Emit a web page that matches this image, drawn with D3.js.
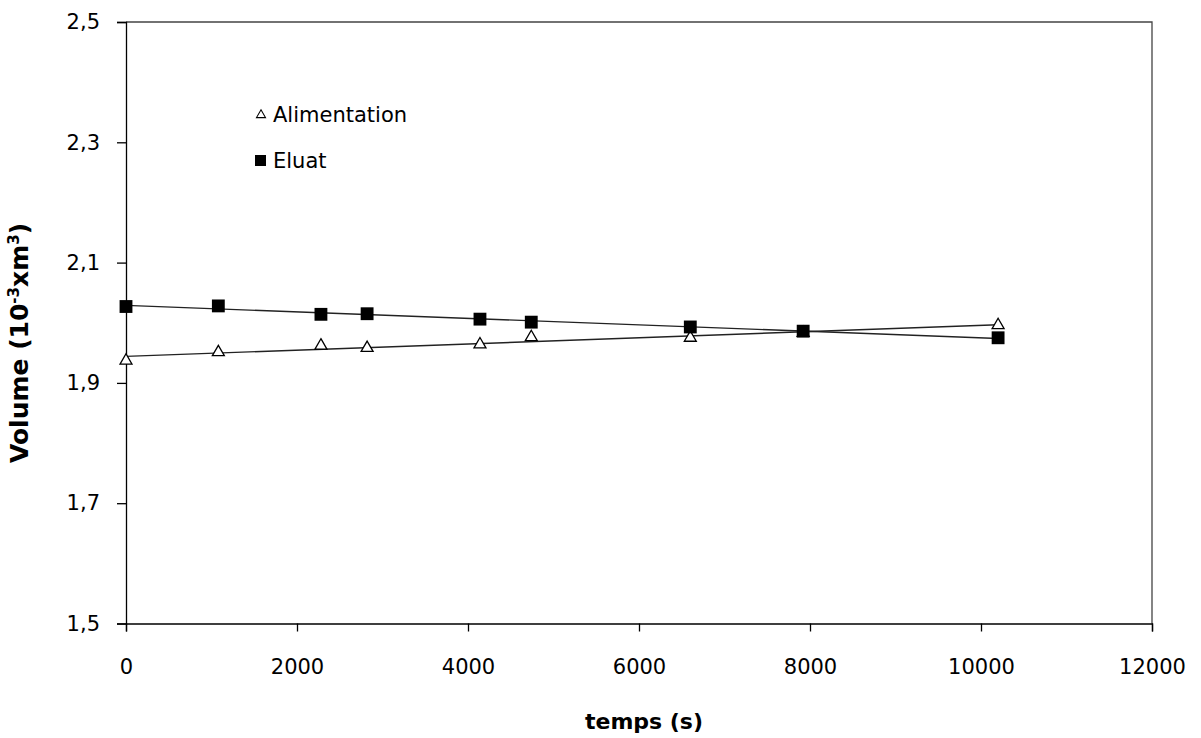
<!DOCTYPE html>
<html>
<head>
<meta charset="utf-8">
<script src="https://cdn.jsdelivr.net/npm/d3@7"></script>
<style>
  html, body { margin: 0; padding: 0; background: #fff; }
  svg { display: block; }
  text { font-family: "DejaVu Sans", sans-serif; fill: #000; }
</style>
</head>
<body>
<svg id="chart" width="1201" height="738"></svg>
<script>
// Sampling times (s)
const temps = [0, 1080, 2280, 2820, 4140, 4740, 6600, 7920, 10200];
// Volumes (10^-3 m^3)
const alimentation = [1.937, 1.951, 1.962, 1.958, 1.964, 1.976, 1.975, 1.983, 1.996];
const eluat = [2.027, 2.028, 2.014, 2.015, 2.006, 2.001, 1.993, 1.986, 1.975];
// Axis ticks
const xTicks = [0, 2000, 4000, 6000, 8000, 10000, 12000];
const yTicks = [1.5, 1.7, 1.9, 2.1, 2.3, 2.5];
const seriesNames = ["Alimentation", "Eluat"];

const svg = d3.select("#chart");
const plotLeft = 126, plotRight = 1152, plotTop = 22, plotBottom = 623.5;

const x = d3.scaleLinear().domain([0, 12000]).range([plotLeft, plotRight]);
const y = d3.scaleLinear().domain([1.5, 2.5]).range([plotBottom, plotTop]);

// Plot frame (top and right edges)
svg.append("path")
  .attr("d", `M${plotLeft},${plotTop}H${plotRight}V${plotBottom}`)
  .attr("fill", "none").attr("stroke", "#444").attr("stroke-width", 1.3);

// X axis
const xAxis = svg.append("g").attr("transform", `translate(0,${plotBottom})`)
  .call(d3.axisBottom(x).tickValues(xTicks).tickSize(8).tickPadding(28).tickFormat(d3.format("d")));
// Y axis
const yAxis = svg.append("g").attr("transform", `translate(${plotLeft},0)`)
  .call(d3.axisLeft(y).tickValues(yTicks).tickSize(9).tickPadding(17)
    .tickFormat(d => d3.format(".1f")(d).replace(".", ",")));

[xAxis, yAxis].forEach(g => {
  g.select(".domain").attr("stroke", "#000").attr("stroke-width", 1.3);
  g.selectAll(".tick line").attr("stroke", "#000").attr("stroke-width", 1.3);
  g.selectAll(".tick text").style("font-size", "21px").attr("fill", "#111");
});

// Least-squares trend line for a series
function trend(xs, ys) {
  const mx = d3.mean(xs), my = d3.mean(ys);
  const sxy = d3.sum(xs, (v, i) => (v - mx) * (ys[i] - my));
  const sxx = d3.sum(xs, v => (v - mx) * (v - mx));
  const b = sxy / sxx, a = my - b * mx;
  const x0 = d3.min(xs), x1 = d3.max(xs);
  return [[x0, a + b * x0], [x1, a + b * x1]];
}

const line = d3.line().x(d => x(d[0])).y(d => y(d[1]));
[alimentation, eluat].forEach(vals => {
  svg.append("path")
    .attr("d", line(trend(temps, vals)))
    .attr("fill", "none").attr("stroke", "#222").attr("stroke-width", 1.4);
});

const triangle = d3.symbol().type(d3.symbolTriangle).size(62);
const square = d3.symbol().type(d3.symbolSquare).size(165);

// Alimentation markers: open triangles
svg.append("g").selectAll("path").data(temps).join("path")
  .attr("d", triangle)
  .attr("transform", (d, i) => `translate(${x(d)},${y(alimentation[i])})`)
  .attr("fill", "#fff").attr("stroke", "#000").attr("stroke-width", 1.3);

// Eluat markers: filled squares
svg.append("g").selectAll("path").data(temps).join("path")
  .attr("d", square)
  .attr("transform", (d, i) => `translate(${x(d)},${y(eluat[i])})`)
  .attr("fill", "#000");

// Legend
const legend = svg.append("g");
legend.append("path").attr("d", d3.symbol().type(d3.symbolTriangle).size(35))
  .attr("transform", "translate(261,115)")
  .attr("fill", "#fff").attr("stroke", "#000").attr("stroke-width", 1.1);
legend.append("text").attr("x", 273).attr("y", 122).style("font-size", "21px").attr("fill", "#111").text(seriesNames[0]);
legend.append("rect").attr("x", 255).attr("y", 155).attr("width", 11).attr("height", 11).attr("fill", "#000");
legend.append("text").attr("x", 273).attr("y", 168).style("font-size", "21px").attr("fill", "#111").text(seriesNames[1]);

// Axis titles
svg.append("text").attr("x", 644).attr("y", 729).attr("text-anchor", "middle")
  .style("font-size", "22px").style("font-weight", "bold").text("temps (s)");
const yl = svg.append("text").attr("transform", "translate(28,343) rotate(-90)")
  .attr("text-anchor", "middle").style("font-size", "25px").style("font-weight", "bold");
yl.append("tspan").text("Volume (10");
yl.append("tspan").attr("baseline-shift", "super").style("font-size", "15px").text("-3");
yl.append("tspan").text("xm");
yl.append("tspan").attr("baseline-shift", "super").style("font-size", "15px").text("3");
yl.append("tspan").text(")");
</script>
</body>
</html>
